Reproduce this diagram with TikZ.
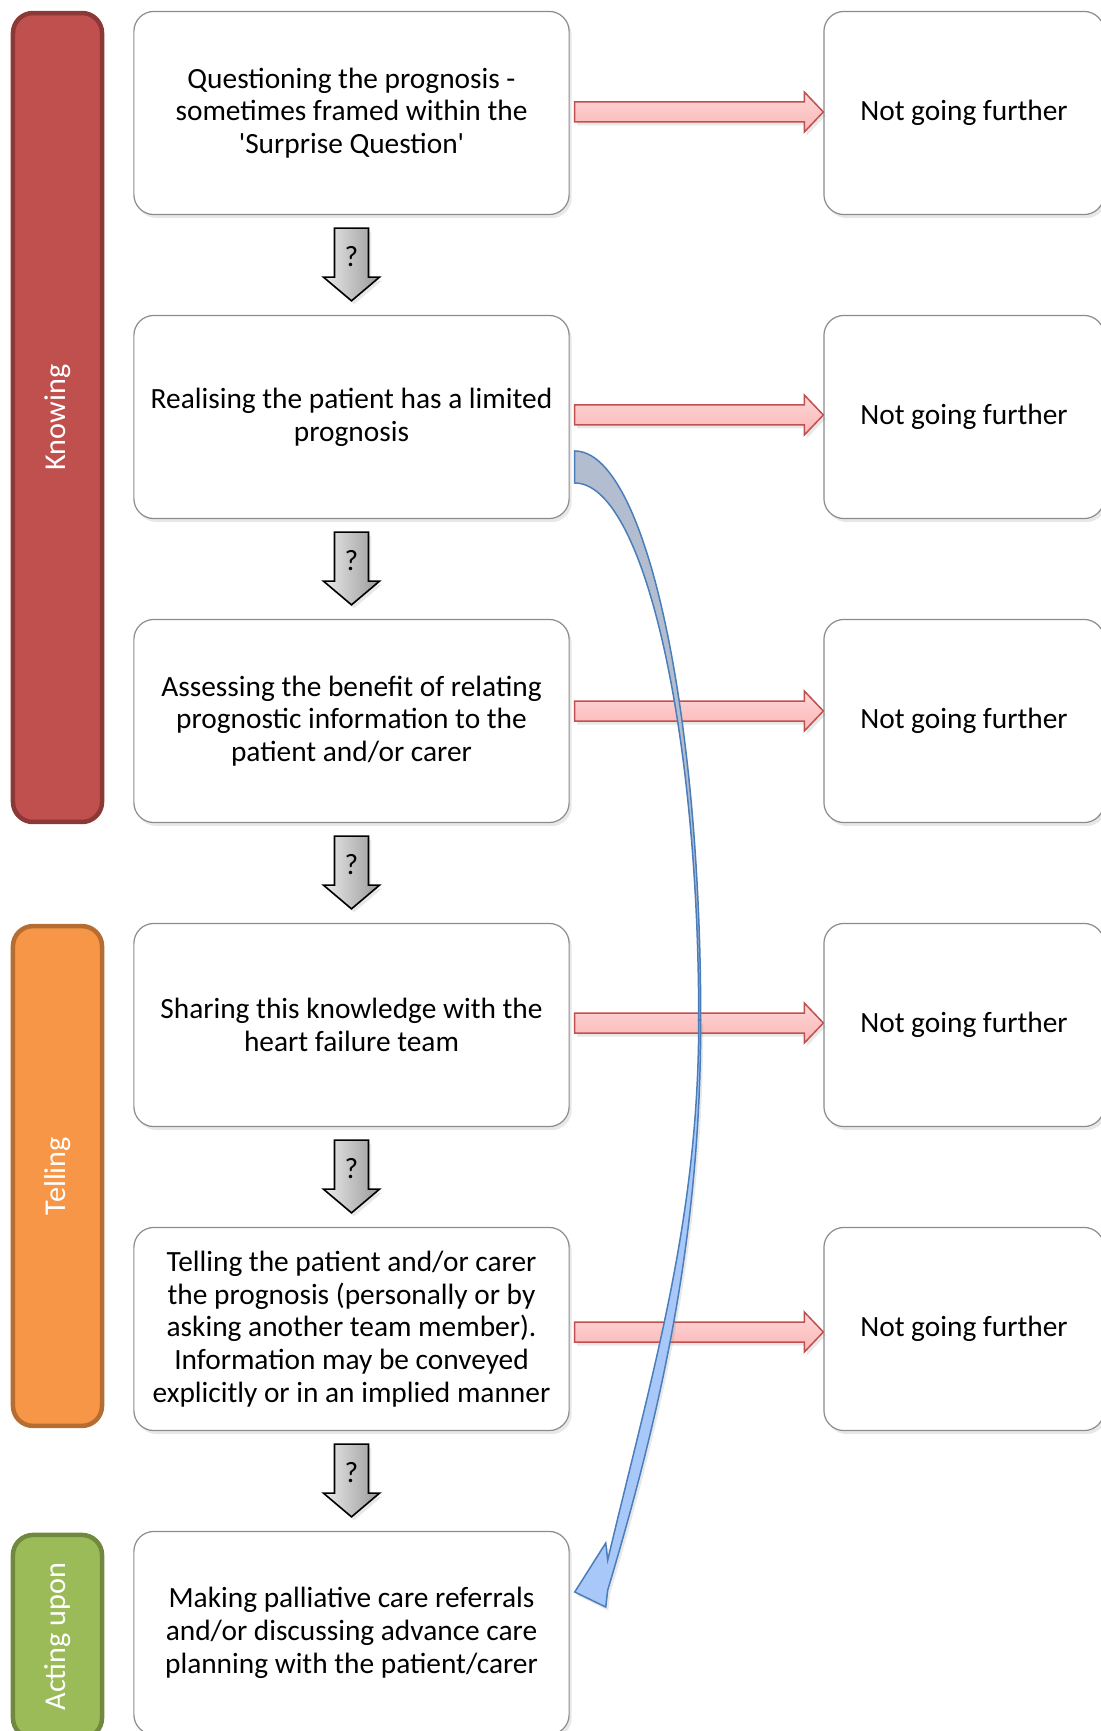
\documentclass[tikz,border=0pt]{standalone}
\usepackage{fontspec}
\setmainfont{Carlito}[Ligatures=TeXOff]
\usetikzlibrary{calc, shadows}
\definecolor{knowfill}{RGB}{192, 80, 77}
\definecolor{knowline}{RGB}{140, 56, 54}
\definecolor{tellfill}{RGB}{247, 150, 70}
\definecolor{tellline}{RGB}{182, 109, 49}
\definecolor{actfill}{RGB}{155, 187, 89}
\definecolor{actline}{RGB}{113, 137, 63}
\definecolor{pinktop}{RGB}{255, 214, 214}
\definecolor{pinkbot}{RGB}{250, 182, 182}
\definecolor{pinkline}{RGB}{192, 80, 77}
\definecolor{curveline}{RGB}{74, 126, 187}
\definecolor{curveback}{RGB}{178, 189, 208}
\definecolor{curvefront}{RGB}{168, 200, 250}

\begin{document}
\begin{tikzpicture}[
  x=0.01cm, y=-0.01cm,
  font=\fontsize{8.35}{9.3}\selectfont,
  softshadow/.style={drop shadow={opacity=0.18, shadow xshift=0.025cm, shadow yshift=-0.035cm}},
  stage/.style={draw=black!45, line width=0.012cm, fill=white, rounded corners=0.2cm,
    minimum width=4.35cm, minimum height=2.03cm, align=center, inner sep=0pt, softshadow},
  stopbox/.style={stage, minimum width=2.8cm},
  phase/.style 2 args={draw=#2, fill=#1, line width=0.045cm, rounded corners=0.2cm,
    minimum height=0.89cm, rotate=90, text=white, font=\fontsize{8.6}{10}\selectfont},
  redarrow/.style={draw=pinkline, line width=0.015cm, top color=pinktop, bottom color=pinkbot, softshadow},
  qarrow/.style={draw=black, line width=0.016cm, left color=black!8, right color=black!40, softshadow},
  curveback/.style={draw=curveline, line width=0.015cm, fill=curveback},
  curvefront/.style={draw=curveline, line width=0.015cm, fill=curvefront, softshadow},
]
  \useasboundingbox (0,0) rectangle (1100,1731);

  % phases
  \node[phase={knowfill}{knowline}, minimum width=8.085cm] (knowing) at (57.5, 417.5) {Knowing};
  \node[phase={tellfill}{tellline}, minimum width=4.995cm] (telling) at (57.5, 1176) {Telling};
  \node[phase={actfill}{actline}, minimum width=2.03cm] (acting) at (57.5, 1636.5) {Acting upon};

  % stages
  \node[stage] (b1) at (351.5, 113) {Questioning the prognosis -\\sometimes framed within the\\'Surprise Question'};
  \node[stage] (b2) at (351.5, 417) {Realising the patient has a limited\\prognosis};
  \node[stage] (b3) at (351.5, 721) {Assessing the benefit of relating\\prognostic information to the\\patient and/or carer};
  \node[stage] (b4) at (351.5, 1025) {Sharing this knowledge with the\\heart failure team};
  \node[stage] (b5) at (351.5, 1329) {Telling the patient and/or carer\\the prognosis (personally or by\\asking another team member).\\Information may be conveyed\\explicitly or in an implied manner};
  \node[stage] (b6) at (351.5, 1633) {Making palliative care referrals\\and/or discussing advance care\\planning with the patient/carer};

  \foreach \i in {1,...,5}
    \node[stopbox] (n\i) at (964, {113+304*(\i-1)}) {Not going further};

  % way out
  \foreach \i/\dy in {1/-1, 2/-2, 3/-10, 4/-2, 5/3}
    \draw[redarrow] ($(b\i.east)+(5,{\dy-10})$) -- ($(n\i.west)+(-19,{\dy-10})$)
      -- ($(n\i.west)+(-19,{\dy-20})$) -- ($(n\i.west)+(0,\dy)$)
      -- ($(n\i.west)+(-19,{\dy+20})$) -- ($(n\i.west)+(-19,{\dy+10})$)
      -- ($(b\i.east)+(5,{\dy+10})$) -- cycle;

  % way on
  \foreach \i/\j in {1/2, 2/3, 3/4, 4/5, 5/6} {
    \draw[qarrow] ($(b\i.south)+(-17,13)$) -- ($(b\i.south)+(17,13)$)
      -- ($(b\i.south)+(17,62)$) -- ($(b\i.south)+(28,62)$) -- ($(b\j.north)+(0,-14)$)
      -- ($(b\i.south)+(-28,62)$) -- ($(b\i.south)+(-17,62)$) -- cycle;
    \node (q\i) at ($(b\i.south)+(0,41)$) {?};
  }

  % short cut
  \coordinate (c1) at ($(b2.east)+(5,34)$);
  \coordinate (c2) at ($(b2.east)+(5,66)$);
  \coordinate (m1) at ($(b4.east)+(131,-5)$);
  \coordinate (m2) at ($(b4.east)+(129,-5)$);
  \coordinate (tip) at ($(b6.east)+(5,-41)$);
  \draw[curveback] (c1) .. controls +(70,0) and +(0,-314) .. (m1)
    -- (m2) .. controls +(0,-296) and +(68,0) .. (c2) -- cycle;
  \draw[curvefront] (m1) .. controls +(0,200) and +(60,-200) .. ($(b6.east)+(38,-43)$)
    -- ($(b6.east)+(36,-26)$) -- (tip) -- ($(b6.east)+(36,-90)$) -- ($(b6.east)+(38,-73)$)
    .. controls +(45,-190) and +(0,200) .. (m2) -- cycle;
\end{tikzpicture}
\end{document}
